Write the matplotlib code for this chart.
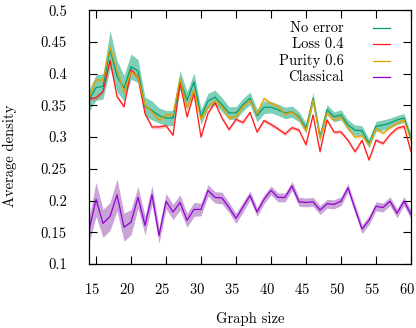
import numpy as np
import matplotlib
matplotlib.use("Agg")
import matplotlib.pyplot as plt
from matplotlib.ticker import FuncFormatter, MultipleLocator
from matplotlib.lines import Line2D
from matplotlib.transforms import ScaledTranslation

# --- DATA ---
graph_size = list(range(14, 61))

no_error = [0.358, 0.378, 0.380, 0.438, 0.396, 0.377, 0.411, 0.404, 0.348, 0.342,
            0.334, 0.330, 0.330, 0.390, 0.358, 0.387, 0.332, 0.357, 0.363, 0.351,
            0.338, 0.338, 0.351, 0.361, 0.334, 0.347, 0.347, 0.343, 0.338, 0.340,
            0.332, 0.314, 0.361, 0.300, 0.343, 0.332, 0.335, 0.319, 0.311, 0.310,
            0.290, 0.317, 0.319, 0.322, 0.327, 0.330, 0.298]
no_error_err = [0.017, 0.020, 0.020, 0.030, 0.025, 0.020, 0.020, 0.018, 0.015, 0.015,
                0.012, 0.012, 0.012, 0.015, 0.014, 0.014, 0.012, 0.012, 0.011, 0.011,
                0.010, 0.010, 0.010, 0.010, 0.010, 0.010, 0.009, 0.009, 0.009, 0.009,
                0.008, 0.008, 0.009, 0.008, 0.008, 0.008, 0.008, 0.008, 0.008, 0.008,
                0.007, 0.008, 0.008, 0.008, 0.007, 0.007, 0.007]

loss = [0.360, 0.362, 0.372, 0.421, 0.364, 0.348, 0.406, 0.394, 0.337, 0.316,
        0.316, 0.318, 0.303, 0.385, 0.332, 0.369, 0.300, 0.338, 0.354, 0.330,
        0.312, 0.328, 0.323, 0.339, 0.308, 0.326, 0.320, 0.313, 0.305, 0.315,
        0.311, 0.288, 0.335, 0.277, 0.327, 0.308, 0.308, 0.295, 0.277, 0.295,
        0.264, 0.295, 0.290, 0.304, 0.314, 0.317, 0.277]

purity = [0.362, 0.390, 0.390, 0.442, 0.405, 0.371, 0.403, 0.395, 0.350, 0.340,
          0.327, 0.335, 0.335, 0.392, 0.346, 0.374, 0.328, 0.348, 0.357, 0.348,
          0.330, 0.333, 0.348, 0.358, 0.336, 0.361, 0.353, 0.348, 0.336, 0.340,
          0.330, 0.310, 0.359, 0.298, 0.338, 0.327, 0.332, 0.314, 0.300, 0.302,
          0.288, 0.314, 0.306, 0.315, 0.322, 0.327, 0.295]

classical = [0.153, 0.202, 0.164, 0.175, 0.209, 0.158, 0.166, 0.205, 0.161, 0.209,
             0.145, 0.199, 0.182, 0.197, 0.169, 0.186, 0.186, 0.216, 0.205, 0.204,
             0.189, 0.172, 0.190, 0.208, 0.182, 0.202, 0.216, 0.205, 0.205, 0.223,
             0.198, 0.197, 0.198, 0.185, 0.195, 0.194, 0.199, 0.220, 0.187, 0.155,
             0.169, 0.191, 0.189, 0.199, 0.180, 0.199, 0.178]
classical_err = [0.020, 0.027, 0.022, 0.022, 0.025, 0.022, 0.020, 0.017, 0.015, 0.015,
                 0.012, 0.012, 0.012, 0.012, 0.011, 0.011, 0.010, 0.009, 0.009, 0.009,
                 0.008, 0.008, 0.008, 0.007, 0.007, 0.007, 0.007, 0.007, 0.007, 0.007,
                 0.007, 0.007, 0.007, 0.007, 0.007, 0.007, 0.007, 0.007, 0.007, 0.007,
                 0.007, 0.007, 0.007, 0.007, 0.007, 0.007, 0.007]

labels = ["No error", "Loss 0.4", "Purity 0.6", "Classical"]
colors = ["#009e73", "#ff1a1a", "#e69f00", "#9400d3"]

# --- STYLE ---
plt.rcParams['font.family'] = ['cmr10', 'DejaVu Serif']
plt.rcParams['mathtext.fontset'] = 'cm'
plt.rcParams['axes.formatter.use_mathtext'] = True
plt.rcParams['font.size'] = 10.5

x = np.array(graph_size)
fig = plt.figure(figsize=(4.16, 3.28), dpi=100)
ax = fig.add_axes([0.214, 0.195, 0.774, 0.774])

# bands
ne = np.array(no_error); ne_e = np.array(no_error_err)
ax.fill_between(x, ne - ne_e, ne + ne_e, color="#009e73", alpha=0.5, lw=0)
cl = np.array(classical); cl_e = np.array(classical_err)
ax.fill_between(x, cl - cl_e, cl + cl_e, color="#9b59b6", alpha=0.55, lw=0)
ls = np.array(loss)
ax.fill_between(x, ls - 0.003, ls + 0.003, color="#ff1a1a", alpha=0.25, lw=0)
pu = np.array(purity)
ax.fill_between(x, pu - 0.003, pu + 0.003, color="#e69f00", alpha=0.25, lw=0)

# lines
ax.plot(x, no_error, color=colors[0], lw=0.9)
ax.plot(x, loss, color=colors[1], lw=0.9)
ax.plot(x, purity, color=colors[2], lw=0.9)
ax.plot(x, classical, color=colors[3], lw=0.9)

ax.set_xlim(14, 60)
ax.set_ylim(0.1, 0.5)
ax.xaxis.set_major_locator(MultipleLocator(5))
ax.yaxis.set_major_locator(MultipleLocator(0.05))
ax.yaxis.set_major_formatter(FuncFormatter(lambda v, p: f"{v:g}"))
ax.tick_params(direction='in', length=6, width=0.8, top=True, right=True)
ax.tick_params(axis='y', pad=16)
ax.tick_params(axis='x', pad=13)
for s in ax.spines.values():
    s.set_linewidth(0.9)

# x tick labels sit a little left of their ticks, as in the original
shift = ScaledTranslation(-4 / 100, 0, fig.dpi_scale_trans)
for t in ax.xaxis.get_major_ticks():
    t.label1.set_transform(t.label1.get_transform() + shift)

ax.set_xlabel("Graph size", labelpad=11)
ax.set_ylabel("Average density")
ax.yaxis.set_label_coords(-0.225, 0.425)

# legend: right-aligned text, sample line on the right
leg_y = [0.930, 0.865, 0.800, 0.735]
for lab, col, yy in zip(labels, colors, leg_y):
    ax.text(0.792, yy, lab, transform=ax.transAxes, ha='right', va='center')
    ax.add_line(Line2D([0.882, 0.935], [yy, yy], color=col, lw=0.9,
                       transform=ax.transAxes))

fig.savefig("out.png", dpi=100)
